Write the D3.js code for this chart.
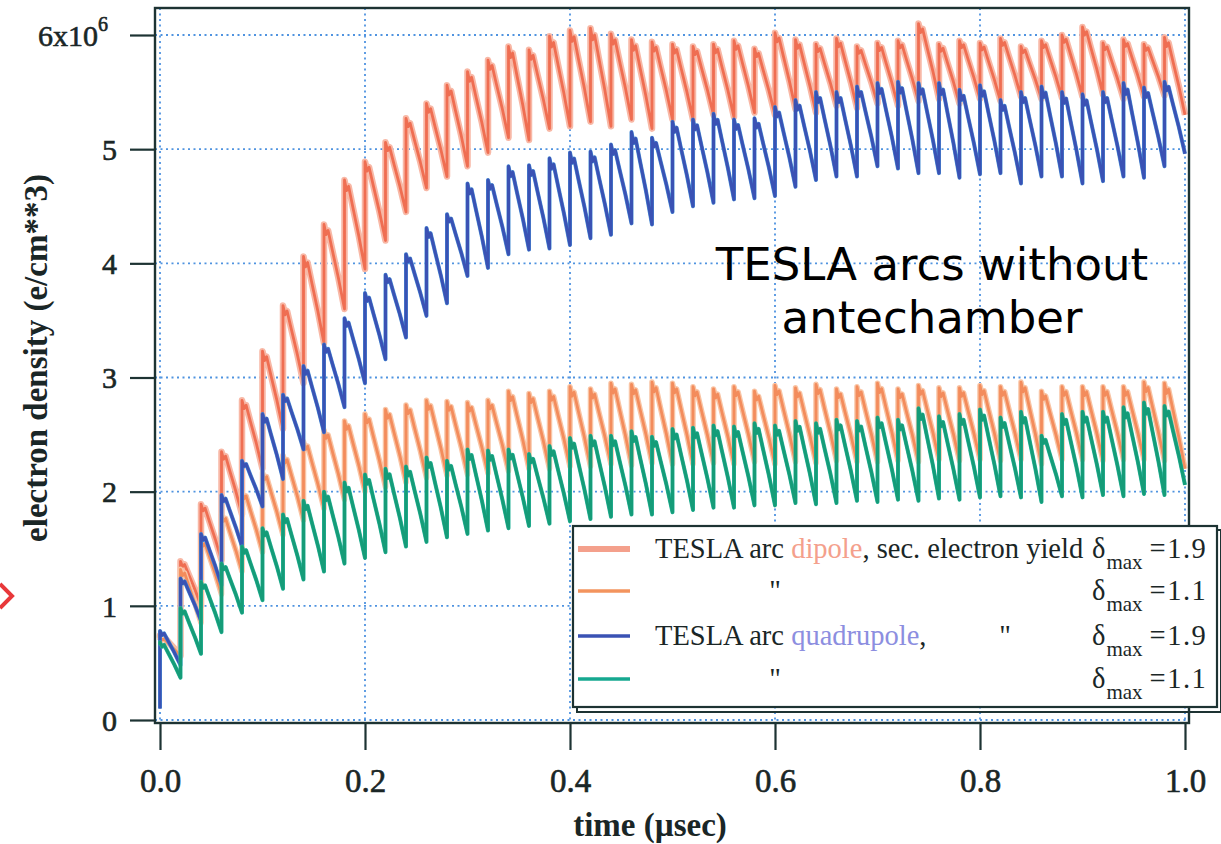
<!DOCTYPE html>
<html>
<head>
<meta charset="utf-8">
<script src="https://d3js.org/d3.v7.min.js"></script>
<style>
  body { margin: 0; background: #fff; }
  svg { display: block; }
</style>
</head>
<body>
<div id="chart"></div>
<script>
// bunch passage times (µsec); the curve jumps at each of them
const bunchTimes = [0.00, 0.02, 0.04, 0.06, 0.08, 0.10, 0.12, 0.14, 0.16, 0.18,
                    0.20, 0.22, 0.24, 0.26, 0.28, 0.30, 0.32, 0.34, 0.36, 0.38,
                    0.40, 0.42, 0.44, 0.46, 0.48, 0.50, 0.52, 0.54, 0.56, 0.58,
                    0.60, 0.62, 0.64, 0.66, 0.68, 0.70, 0.72, 0.74, 0.76, 0.78,
                    0.80, 0.82, 0.84, 0.86, 0.88, 0.90, 0.92, 0.94, 0.96, 0.98];
const endTime = 1.0;

// densities in 1e6 e/cm^3: value right after each bunch (peak)
// and value just before each bunch (trough, last one = value at endTime)
const dipole19Peaks = [0.74, 1.39, 1.89, 2.35, 2.80, 3.23, 3.63, 4.06, 4.34, 4.73,
                       4.89, 5.06, 5.27, 5.40, 5.56, 5.68, 5.78, 5.90, 5.87, 5.99,
                       6.04, 6.06, 6.01, 5.96, 5.94, 5.92, 5.90, 5.92, 5.95, 5.88,
                       6.02, 5.96, 5.92, 5.97, 5.90, 5.93, 5.95, 6.10, 5.92, 5.95,
                       5.93, 5.97, 5.90, 5.95, 6.00, 6.07, 5.93, 5.96, 5.92, 5.98];
const dipole19Troughs = [0.72, 0.56, 1.00, 1.40, 1.80, 2.20, 2.55, 2.95, 3.30, 3.60,
                         3.95, 4.20, 4.45, 4.66, 4.76, 4.85, 4.97, 5.10, 5.08, 5.18,
                         5.20, 5.24, 5.20, 5.26, 5.18, 5.26, 5.26, 5.30, 5.28, 5.32,
                         5.30, 5.35, 5.32, 5.38, 5.36, 5.40, 5.38, 5.42, 5.44, 5.40,
                         5.44, 5.42, 5.46, 5.44, 5.45, 5.46, 5.48, 5.44, 5.46, 5.47, 5.30];

const dipole11Peaks = [0.72, 1.32, 1.58, 1.80, 2.00, 2.17, 2.32, 2.44, 2.54, 2.62,
                       2.68, 2.72, 2.76, 2.80, 2.79, 2.78, 2.80, 2.88, 2.86, 2.88,
                       2.92, 2.90, 2.95, 2.94, 2.96, 2.95, 2.92, 2.90, 2.92, 2.88,
                       2.93, 2.91, 2.94, 2.90, 2.92, 2.95, 2.90, 2.93, 2.91, 2.91,
                       2.93, 2.92, 2.96, 2.88, 2.92, 2.92, 2.92, 2.92, 2.96, 2.95];
const dipole11Troughs = [0.70, 0.56, 0.85, 1.10, 1.30, 1.47, 1.62, 1.75, 1.85, 1.93,
                         2.00, 2.04, 2.08, 2.12, 2.14, 2.15, 2.16, 2.18, 2.20, 2.20,
                         2.22, 2.22, 2.24, 2.23, 2.25, 2.24, 2.24, 2.25, 2.24, 2.26,
                         2.24, 2.26, 2.25, 2.27, 2.26, 2.26, 2.27, 2.26, 2.28, 2.27,
                         2.28, 2.27, 2.28, 2.24, 2.28, 2.28, 2.27, 2.28, 2.28, 2.27, 2.20];

const quad19Peaks = [0.78, 1.24, 1.63, 1.97, 2.27, 2.68, 2.85, 3.10, 3.29, 3.52,
                     3.74, 3.90, 4.08, 4.31, 4.43, 4.70, 4.73, 4.85, 4.86, 4.92,
                     4.97, 4.98, 5.04, 5.15, 5.10, 5.24, 5.26, 5.31, 5.26, 5.27,
                     5.37, 5.43, 5.50, 5.50, 5.55, 5.58, 5.59, 5.58, 5.58, 5.52,
                     5.56, 5.43, 5.50, 5.55, 5.50, 5.48, 5.50, 5.58, 5.54, 5.59];
const quad19Troughs = [0.10, 0.48, 0.87, 1.18, 1.52, 1.87, 2.11, 2.37, 2.52, 2.74,
                       2.95, 3.16, 3.35, 3.54, 3.65, 3.89, 3.96, 4.08, 4.12, 4.13,
                       4.16, 4.22, 4.25, 4.35, 4.34, 4.45, 4.50, 4.53, 4.56, 4.57,
                       4.59, 4.67, 4.73, 4.76, 4.76, 4.85, 4.83, 4.79, 4.79, 4.75,
                       4.78, 4.79, 4.70, 4.76, 4.76, 4.70, 4.72, 4.76, 4.75, 4.85, 4.96];

const quad11Peaks = [0.68, 0.98, 1.21, 1.37, 1.52, 1.68, 1.80, 1.92, 2.00, 2.08,
                     2.15, 2.20, 2.22, 2.30, 2.27, 2.37, 2.36, 2.37, 2.33, 2.40,
                     2.47, 2.49, 2.49, 2.53, 2.48, 2.55, 2.56, 2.58, 2.57, 2.60,
                     2.58, 2.62, 2.60, 2.63, 2.62, 2.65, 2.63, 2.73, 2.66, 2.68,
                     2.72, 2.65, 2.70, 2.49, 2.68, 2.70, 2.70, 2.74, 2.78, 2.75];
const quad11Troughs = [0.66, 0.37, 0.58, 0.77, 0.94, 1.05, 1.15, 1.23, 1.30, 1.37,
                       1.42, 1.47, 1.52, 1.56, 1.60, 1.63, 1.66, 1.68, 1.70, 1.72,
                       1.74, 1.76, 1.78, 1.80, 1.80, 1.82, 1.84, 1.86, 1.86, 1.88,
                       1.88, 1.90, 1.89, 1.90, 1.92, 1.91, 1.93, 1.92, 1.94, 1.93,
                       1.95, 1.96, 1.95, 1.91, 1.96, 1.95, 1.97, 1.96, 1.98, 1.97, 2.06];

const xTicks = [0.0, 0.2, 0.4, 0.6, 0.8, 1.0];
const yTicks = [0, 1, 2, 3, 4, 5, 6];

const width = 1221, height = 844;
const serif = "'Liberation Serif', 'Times New Roman', serif";
const inkColor = '#1a2626';

const svg = d3.select('#chart').append('svg')
  .attr('width', width)
  .attr('height', height)
  .style('background', '#fff');

const x = d3.scaleLinear().domain([0, 1]).range([160, 1185]);
const y = d3.scaleLinear().domain([0, 6]).range([720, 35]);

const frame = { left: x(0) - 5, right: x(1) + 4, top: y(6) - 27, bottom: y(0) + 3 };

// grid (dotted blue)
const grid = svg.append('g');
grid.selectAll('line.gx')
  .data(xTicks)
  .enter().append('line')
    .attr('x1', d => x(d)).attr('x2', d => x(d))
    .attr('y1', frame.top).attr('y2', frame.bottom)
    .attr('stroke', '#4f93e0').attr('stroke-width', 1.8)
    .attr('stroke-dasharray', '2,3.5');
grid.selectAll('line.gy')
  .data(yTicks)
  .enter().append('line')
    .attr('y1', d => y(d)).attr('y2', d => y(d))
    .attr('x1', frame.left).attr('x2', frame.right)
    .attr('stroke', '#4f93e0').attr('stroke-width', 1.8)
    .attr('stroke-dasharray', '2,3.5');

// the sawtooth pulse: jump at a bunch, small knee, then decay to next bunch
const pulseShape = [[0.10, 0.12], [0.20, 0.07], [0.42, 0.32], [0.70, 0.63]];

function SawCurve(context) { this._context = context; }
SawCurve.prototype = {
  areaStart: function () {}, areaEnd: function () {},
  lineStart: function () { this._point = 0; },
  lineEnd: function () {},
  point: function (px, py) {
    px = +px; py = +py;
    if (this._point === 0) {
      this._point = 1;
      this._context.moveTo(px, py);
    } else if (Math.abs(px - this._x0) < 0.01) {
      this._context.lineTo(px, py);
    } else {
      let dx = px - this._x0, dy = py - this._y0;
      for (const [fx, fy] of pulseShape) {
        this._context.lineTo(this._x0 + fx * dx, this._y0 + fy * dy);
      }
      this._context.lineTo(px, py);
    }
    this._x0 = px; this._y0 = py;
  }
};
const sawCurve = context => new SawCurve(context);

function seriesPoints(peaks, troughs) {
  let pts = [];
  bunchTimes.forEach((t, k) => {
    pts.push([t, troughs[k]]);
    pts.push([t, peaks[k]]);
  });
  pts.push([endTime, troughs[bunchTimes.length]]);
  return pts;
}

const line = d3.line()
  .x(d => x(d[0]))
  .y(d => y(d[1]))
  .curve(sawCurve);

const series = [
  { name: 'dip19', peaks: dipole19Peaks, troughs: dipole19Troughs,
    strokes: [{ c: '#f8b8a6', w: 6.5 }, { c: '#ef6e52', w: 2.8 }] },
  { name: 'dip11', peaks: dipole11Peaks, troughs: dipole11Troughs,
    strokes: [{ c: '#f9c4a4', w: 5.5 }, { c: '#f38c5c', w: 2.8 }] },
  { name: 'quad19', peaks: quad19Peaks, troughs: quad19Troughs,
    strokes: [{ c: '#4b8fd6', w: 4 }, { c: '#3a52b4', w: 3 }] },
  { name: 'quad11', peaks: quad11Peaks, troughs: quad11Troughs,
    strokes: [{ c: '#2bb59c', w: 4 }, { c: '#159c78', w: 3 }] }
];

const plot = svg.append('g');
series.forEach(s => {
  let pts = seriesPoints(s.peaks, s.troughs);
  s.strokes.forEach(st => {
    plot.append('path')
      .datum(pts)
      .attr('d', line)
      .attr('fill', 'none')
      .attr('stroke', st.c)
      .attr('stroke-width', st.w)
      .attr('stroke-linejoin', 'round');
  });
});

// frame
svg.append('rect')
  .attr('x', frame.left).attr('y', frame.top)
  .attr('width', frame.right - frame.left)
  .attr('height', frame.bottom - frame.top)
  .attr('fill', 'none')
  .attr('stroke', '#1d3333')
  .attr('stroke-width', 2.4);

// axes
const axisColor = '#1d3333';
const xAxis = svg.append('g')
  .attr('transform', `translate(0,${frame.bottom})`)
  .call(d3.axisBottom(x).tickValues(xTicks).tickSize(27).tickFormat(d3.format('.1f')));
const yAxis = svg.append('g')
  .attr('transform', `translate(${frame.left},0)`)
  .call(d3.axisLeft(y).tickValues(yTicks).tickSize(25).tickFormat(d => d === 6 ? '6x10' : d));

[xAxis, yAxis].forEach(a => {
  a.select('.domain').remove();
  a.selectAll('.tick line').attr('stroke', axisColor).attr('stroke-width', 2.2);
  a.selectAll('.tick text')
    .attr('fill', inkColor)
    .attr('stroke', inkColor)
    .attr('stroke-width', 0.6)
    .style('font-family', serif);
});
xAxis.selectAll('.tick text').style('font-size', '33px').attr('y', 69).attr('dy', null);
yAxis.selectAll('.tick text').style('font-size', '30px').attr('x', -38).attr('dy', '0.34em');
yAxis.selectAll('.tick text')
  .filter(d => d === 6)
  .attr('x', -47)
  .append('tspan')
    .attr('dy', '-0.75em')
    .style('font-size', '20px')
    .text('6');

// axis titles
svg.append('text')
  .attr('x', 650).attr('y', 836)
  .attr('text-anchor', 'middle')
  .style('font-family', serif).style('font-weight', 'bold').style('font-size', '33px')
  .attr('fill', inkColor)
  .text('time (µsec)');
svg.append('text')
  .attr('transform', 'translate(47,358) rotate(-90)')
  .attr('text-anchor', 'middle')
  .style('font-family', serif).style('font-weight', 'bold').style('font-size', '33px')
  .attr('fill', inkColor)
  .text('electron density (e/cm**3)');

// annotation
const note = svg.append('text')
  .attr('text-anchor', 'middle')
  .style('font-family', "'DejaVu Sans', Verdana, sans-serif")
  .style('font-size', '45px')
  .attr('fill', '#000');
note.append('tspan').attr('x', 932).attr('y', 280).text('TESLA arcs without');
note.append('tspan').attr('x', 932).attr('y', 333).text('antechamber');

// legend
const legend = svg.append('g');
legend.append('rect')
  .attr('x', 577).attr('y', 530).attr('width', 644).attr('height', 182)
  .attr('fill', 'none').attr('stroke', '#1d3333').attr('stroke-width', 2);
legend.append('rect')
  .attr('x', 573).attr('y', 526).attr('width', 644).attr('height', 181)
  .attr('fill', '#fff').attr('stroke', '#1d3333').attr('stroke-width', 2.2);

const legendRows = [
  { y: 549, c: '#f4a08c', w: 6, lead: 'TESLA arc ', word: 'dipole', wordColor: '#f4a08c',
    tail: ', sec. electron yield', ditto: null, val: '=1.9' },
  { y: 591, c: '#f3945e', w: 3.5, lead: null, ditto: 775, val: '=1.1' },
  { y: 636, c: '#3a52b4', w: 3.5, lead: 'TESLA arc ', word: 'quadrupole', wordColor: '#8c8ee0',
    tail: ',', ditto: 1005, val: '=1.9' },
  { y: 679, c: '#16a890', w: 3.5, lead: null, ditto: 775, val: '=1.1' }
];

const legendFont = '28.5px';
legendRows.forEach(r => {
  legend.append('line')
    .attr('x1', 578).attr('x2', 630)
    .attr('y1', r.y).attr('y2', r.y)
    .attr('stroke', r.c).attr('stroke-width', r.w);
  const ty = r.y + 9;
  if (r.lead) {
    const t = legend.append('text')
      .attr('x', 655).attr('y', ty)
      .style('font-family', serif).style('font-size', legendFont)
      .attr('fill', inkColor);
    t.append('tspan').text(r.lead);
    t.append('tspan').attr('fill', r.wordColor).text(r.word);
    t.append('tspan').text(r.tail);
  }
  if (r.ditto) {
    legend.append('text')
      .attr('x', r.ditto).attr('y', ty)
      .attr('text-anchor', 'middle')
      .style('font-family', serif).style('font-size', legendFont)
      .attr('fill', inkColor)
      .text('"');
  }
  const d = legend.append('text')
    .attr('x', 1092).attr('y', ty)
    .style('font-family', serif).style('font-size', legendFont)
    .attr('fill', inkColor);
  d.append('tspan').text('δ');
  d.append('tspan').attr('dy', 11).attr('dx', 1).style('font-size', '21px').text('max');
  d.append('tspan').attr('dy', -11).attr('dx', 7).attr('letter-spacing', 1.5).text(r.val);
});

// red marker at the left edge
svg.append('path')
  .attr('d', 'M0,584 L12,596 L0,608')
  .attr('fill', 'none')
  .attr('stroke', '#e8383a')
  .attr('stroke-width', 4);
</script>
</body>
</html>
